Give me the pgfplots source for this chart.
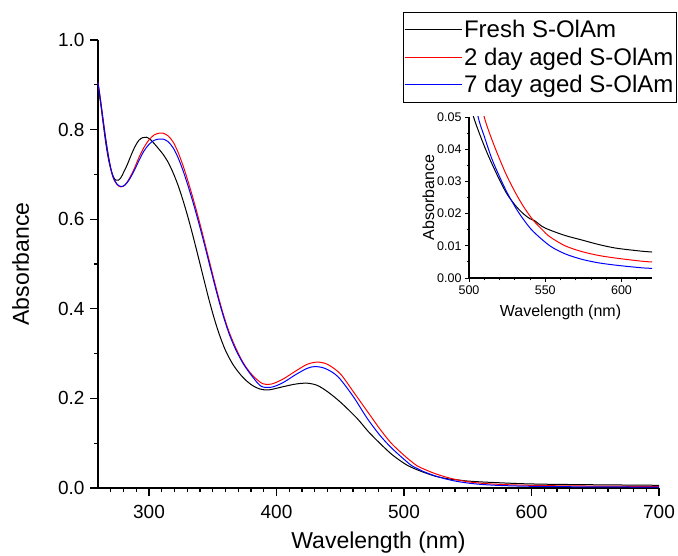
\documentclass[border=0pt]{standalone}
\usepackage{fontspec}
\setmainfont{Liberation Sans}
\usepackage{pgfplots}
\pgfplotsset{compat=1.18}

\pgfplotstableread{
x y
260 0.900
262 0.860
264 0.815
266 0.772
268 0.737
270 0.712
272 0.695
274 0.687
276 0.687
278 0.693
280 0.704
283 0.722
286 0.743
289 0.762
292 0.776
295 0.782
298 0.783
301 0.778
304 0.769
307 0.759
311 0.745
315 0.727
319 0.703
323 0.674
327 0.639
331 0.600
335 0.557
339 0.512
343 0.466
347 0.421
351 0.380
355 0.344
360 0.307
366 0.275
373 0.249
380 0.231
387 0.221
394 0.219
405 0.226
415 0.232
424 0.234
432 0.229
440 0.215
450 0.192
463 0.156
472 0.126
481 0.100
490 0.076
497 0.061
503 0.050
510 0.041
515 0.0355
520 0.0305
525 0.026
531 0.0222
536 0.0198
540 0.0184
543 0.0178
548 0.0160
553 0.0149
563 0.0132
574 0.0118
585 0.0104
596 0.0093
608 0.0086
619 0.0081
650 0.0072
700 0.0060
}\fresh

\pgfplotstableread{
x y
260 0.905
262 0.865
264 0.822
266 0.780
268 0.743
270 0.713
272 0.692
275 0.677
278 0.672
281 0.676
284 0.688
288 0.710
292 0.737
296 0.760
300 0.777
304 0.788
308 0.792
311 0.792
315 0.786
319 0.772
323 0.748
327 0.717
331 0.681
335 0.642
339 0.600
343 0.556
347 0.510
351 0.465
355 0.421
359 0.381
363 0.347
368 0.313
374 0.279
381 0.252
389 0.233
396 0.232
405 0.243
415 0.261
424 0.276
432 0.281
440 0.276
450 0.255
460 0.216
468 0.184
475 0.156
481 0.132
490 0.100
500 0.073
505 0.061
510 0.050
515 0.043
520 0.037
525 0.0315
531 0.026
536 0.022
542 0.018
548 0.015
553 0.0128
563 0.0100
574 0.0082
585 0.0070
596 0.0062
608 0.0055
619 0.0050
650 0.0043
700 0.0035
}\twoday

\pgfplotstableread{
x y
260 0.905
262 0.865
264 0.822
266 0.780
268 0.744
270 0.714
272 0.693
275 0.678
278 0.673
281 0.676
284 0.686
288 0.706
292 0.730
296 0.752
300 0.767
304 0.776
308 0.779
311 0.779
315 0.773
319 0.759
323 0.736
327 0.706
331 0.671
335 0.633
339 0.592
343 0.549
347 0.504
351 0.459
355 0.416
359 0.377
363 0.343
368 0.309
374 0.277
381 0.249
388 0.227
396 0.225
405 0.235
415 0.253
424 0.267
430 0.271
438 0.267
448 0.249
460 0.205
471 0.156
481 0.118
490 0.090
500 0.064
506 0.050
510 0.044
515 0.037
520 0.0315
525 0.0265
531 0.0215
536 0.018
542 0.0145
553 0.0100
563 0.0075
574 0.0058
585 0.0047
596 0.0040
608 0.0034
619 0.0030
650 0.0025
700 0.0020
}\sevenday

\begin{document}
\begin{tikzpicture}[x=1pt,y=1pt]
\useasboundingbox (0,0) rectangle (678,556);
\begin{axis}[
  at={(98pt,68pt)}, anchor=south west,
  scale only axis, width=561pt, height=448pt,
  xmin=260, xmax=700, ymin=0, ymax=1.0,
  axis lines*=left, axis line style={line width=1.3pt, -},
  xtick={300,400,500,600,700}, ytick={0,0.2,0.4,0.6,0.8,1.0},
  minor xtick={270,280,...,690}, minor ytick={0.1,0.3,0.5,0.7,0.9},
  tick align=outside, major tick length=8pt, minor tick length=4pt,
  every tick/.style={line width=1.1pt, black},
  /pgf/number format/assume math mode=true,
  yticklabel style={/pgf/number format/fixed, /pgf/number format/fixed zerofill, /pgf/number format/precision=1, xshift=-2pt},
  xticklabel style={yshift=-6pt},
  tick label style={font=\fontsize{19}{22}\selectfont},
  xlabel={Wavelength (nm)}, ylabel={Absorbance},
  label style={font=\fontsize{23}{26}\selectfont},
  xlabel style={yshift=-6pt},
  ylabel style={yshift=22pt},
  legend cell align=left,
  legend style={at={(axis description cs:1.032,1.0625)}, anchor=north east,
    font=\fontsize{24}{27}\selectfont, draw=black, line width=1pt,
    inner xsep=1pt, inner ysep=6pt, row sep=4.5pt},
  legend image code/.code={\draw[#1] (0pt,0pt) -- (52pt,0pt); \path (0pt,0pt) -- (57pt,0pt);},
  clip=false,
]
\addplot[black, line width=1pt, smooth] table {\fresh};
\addplot[red, line width=1pt, smooth] table {\twoday};
\addplot[blue, line width=1pt, smooth] table {\sevenday};
\legend{Fresh S-OlAm, 2 day aged S-OlAm, 7 day aged S-OlAm}
\end{axis}

\begin{axis}[
  at={(469pt,278pt)}, anchor=south west,
  scale only axis, width=183pt, height=161pt,
  xmin=500, xmax=620, ymin=0, ymax=0.05,
  axis lines*=left, axis line style={line width=1.1pt, -},
  xtick={500,550,600}, ytick={0,0.01,0.02,0.03,0.04,0.05},
  minor xtick={510,520,530,540,560,570,580,590,610},
  minor ytick={0.005,0.015,0.025,0.035,0.045},
  scaled y ticks=false,
  tick align=outside, major tick length=4pt, minor tick length=2.5pt,
  every tick/.style={line width=0.8pt, black},
  /pgf/number format/assume math mode=true,
  yticklabel style={/pgf/number format/fixed, /pgf/number format/fixed zerofill, /pgf/number format/precision=2},
  tick label style={font=\fontsize{12.5}{14}\selectfont},
  xlabel={Wavelength (nm)}, ylabel={Absorbance},
  label style={font=\fontsize{16}{18}\selectfont},
  xlabel style={yshift=-4pt}, ylabel style={yshift=-4pt},
]
\addplot[black, line width=1pt, smooth] table {\fresh};
\addplot[red, line width=1pt, smooth] table {\twoday};
\addplot[blue, line width=1pt, smooth] table {\sevenday};
\end{axis}
\end{tikzpicture}
\end{document}
